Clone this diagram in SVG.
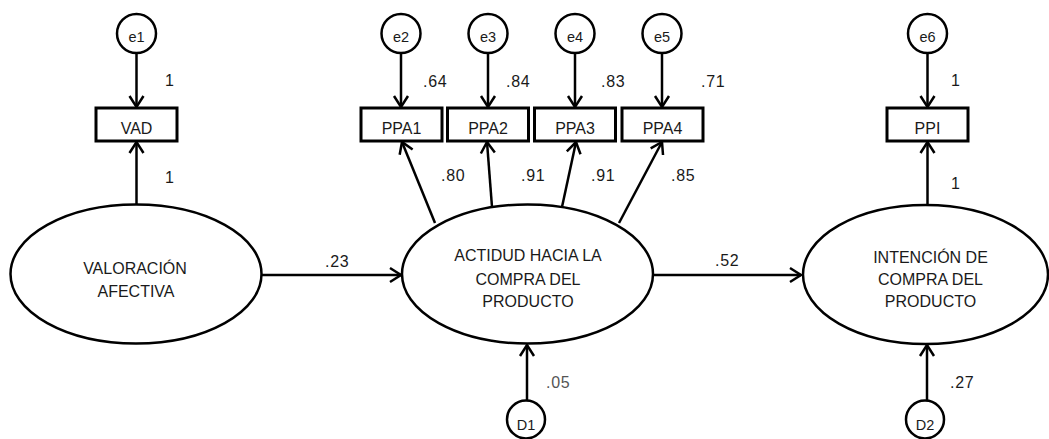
<svg xmlns="http://www.w3.org/2000/svg" width="1049" height="439" viewBox="0 0 1049 439">
  <style>
    .shape { fill: #fff; stroke: #000; stroke-width: 2.5; }
    .box { fill: #fff; stroke: #000; stroke-width: 3; }
    .edge { fill: none; stroke: #000; stroke-width: 2.5; }
    text { font-family: "Liberation Sans", Arial, sans-serif; font-size: 16px; fill: #1a1a1a; }
    .mid { text-anchor: middle; }
    .sm { font-size: 14.5px; }
    .lbl text { letter-spacing: 0.7px; }
    .lt { text-anchor: middle; }
    .grey { fill: #555; }
  </style>
  <defs>
    <marker id="arrow" markerUnits="userSpaceOnUse" markerWidth="20" markerHeight="20" viewBox="-14 -10 16 20" refX="0" refY="0" orient="auto" overflow="visible">
      <path d="M-11,-7 L0,0 L-11,7" fill="none" stroke="#000" stroke-width="2.5" stroke-linejoin="miter"/>
    </marker>
  </defs>

  <!-- connectors -->
  <g id="connectors">
    <line class="edge" x1="136.5" y1="54" x2="136.5" y2="107" marker-end="url(#arrow)"/>
    <line class="edge" x1="136.5" y1="204" x2="136.5" y2="142" marker-end="url(#arrow)"/>
    <line class="edge" x1="401" y1="53" x2="401" y2="107" marker-end="url(#arrow)"/>
    <line class="edge" x1="488" y1="53" x2="488" y2="107" marker-end="url(#arrow)"/>
    <line class="edge" x1="575" y1="53" x2="575" y2="107" marker-end="url(#arrow)"/>
    <line class="edge" x1="662" y1="53" x2="662" y2="107" marker-end="url(#arrow)"/>
    <line class="edge" x1="435" y1="223" x2="402" y2="142" marker-end="url(#arrow)"/>
    <line class="edge" x1="492" y1="207" x2="487" y2="142" marker-end="url(#arrow)"/>
    <line class="edge" x1="562" y1="207" x2="576" y2="142" marker-end="url(#arrow)"/>
    <line class="edge" x1="619" y1="223" x2="662" y2="142" marker-end="url(#arrow)"/>
    <line class="edge" x1="262" y1="275" x2="401" y2="275" marker-end="url(#arrow)"/>
    <line class="edge" x1="653" y1="275" x2="801" y2="275" marker-end="url(#arrow)"/>
    <line class="edge" x1="527" y1="400" x2="527" y2="345" marker-end="url(#arrow)"/>
    <line class="edge" x1="927" y1="400" x2="927" y2="345" marker-end="url(#arrow)"/>
    <line class="edge" x1="927.5" y1="54" x2="927.5" y2="107" marker-end="url(#arrow)"/>
    <line class="edge" x1="927.5" y1="204" x2="927.5" y2="142" marker-end="url(#arrow)"/>
  </g>

  <!-- path coefficients -->
  <g id="labels" class="lbl">
    <text x="165" y="86">1</text>
    <text x="165" y="183">1</text>
    <text x="423" y="87">.64</text>
    <text x="506" y="87">.84</text>
    <text x="601" y="87">.83</text>
    <text x="701" y="87">.71</text>
    <text x="441" y="181">.80</text>
    <text x="521" y="181">.91</text>
    <text x="591" y="181">.91</text>
    <text x="671" y="181">.85</text>
    <text x="325" y="267" fill="#404040">.23</text>
    <text x="715" y="266">.52</text>
    <text x="546" y="388" class="grey">.05</text>
    <text x="950" y="388">.27</text>
    <text x="951" y="86">1</text>
    <text x="951" y="189">1</text>
  </g>

  <!-- error terms -->
  <g id="e1"><circle class="shape" cx="136.5" cy="33.5" r="19.5"/><text class="mid sm" x="136.5" y="41.5">e1</text></g>
  <g id="e2"><circle class="shape" cx="401" cy="33.5" r="19.5"/><text class="mid sm" x="401" y="41.5">e2</text></g>
  <g id="e3"><circle class="shape" cx="488" cy="33.5" r="19.5"/><text class="mid sm" x="488" y="41.5">e3</text></g>
  <g id="e4"><circle class="shape" cx="575" cy="33.5" r="19.5"/><text class="mid sm" x="575" y="41.5">e4</text></g>
  <g id="e5"><circle class="shape" cx="662" cy="33.5" r="19.5"/><text class="mid sm" x="662" y="41.5">e5</text></g>
  <g id="e6"><circle class="shape" cx="927.5" cy="33.5" r="19.5"/><text class="mid sm" x="927.5" y="41.5">e6</text></g>

  <!-- observed indicators -->
  <g id="VAD"><rect class="box" x="96" y="108" width="81" height="33"/><text class="mid" x="136.5" y="134">VAD</text></g>
  <g id="PPA1"><rect class="box" x="361" y="108" width="81" height="33"/><text class="mid" x="401.5" y="134">PPA1</text></g>
  <g id="PPA2"><rect class="box" x="447.5" y="108" width="81" height="33"/><text class="mid" x="488" y="134">PPA2</text></g>
  <g id="PPA3"><rect class="box" x="534.5" y="108" width="81" height="33"/><text class="mid" x="575" y="134">PPA3</text></g>
  <g id="PPA4"><rect class="box" x="622" y="108" width="81" height="33"/><text class="mid" x="662.5" y="134">PPA4</text></g>
  <g id="PPI"><rect class="box" x="887" y="108" width="81" height="33"/><text class="mid" x="927.5" y="134">PPI</text></g>

  <!-- latent constructs -->
  <g id="valoracion">
    <ellipse class="shape" cx="136" cy="274" rx="125.5" ry="69.5"/>
    <text class="lt" x="135" y="274">VALORACIÓN</text>
    <text class="lt" x="136" y="296.5">AFECTIVA</text>
  </g>
  <g id="actitud">
    <ellipse class="shape" cx="527.5" cy="274" rx="125.5" ry="69.5"/>
    <text class="lt" x="528" y="261">ACTIDUD HACIA LA</text>
    <text class="lt" x="528" y="284.5">COMPRA DEL</text>
    <text class="lt" x="528" y="307">PRODUCTO</text>
  </g>
  <g id="intencion">
    <ellipse class="shape" cx="925.5" cy="274.5" rx="122.5" ry="69.5"/>
    <text class="lt" x="930.5" y="263">INTENCIÓN DE</text>
    <text class="lt" x="930.5" y="285">COMPRA DEL</text>
    <text class="lt" x="930.5" y="307">PRODUCTO</text>
  </g>

  <!-- disturbances -->
  <g id="D1"><circle class="shape" cx="526" cy="419.5" r="19"/><text class="mid sm" x="526" y="430">D1</text></g>
  <g id="D2"><circle class="shape" cx="925" cy="419.5" r="19"/><text class="mid sm" x="925" y="430">D2</text></g>
</svg>
